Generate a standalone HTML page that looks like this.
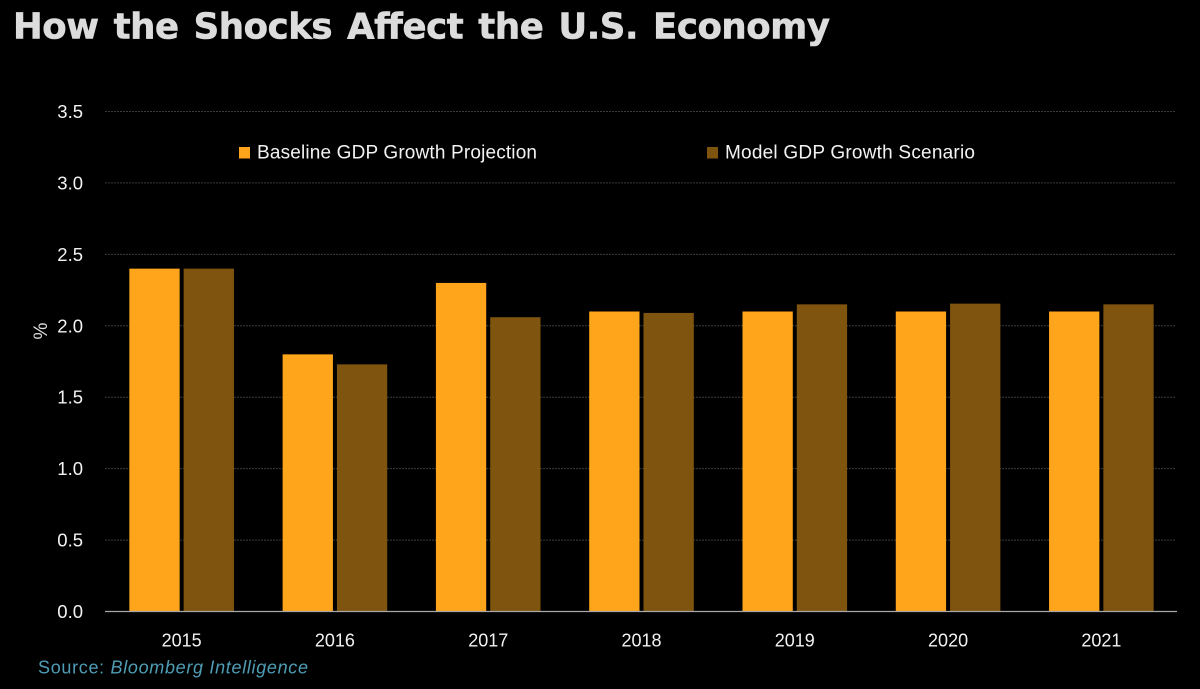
<!DOCTYPE html>
<html lang="en">
<head>
<meta charset="utf-8">
<title>How the Shocks Affect the U.S. Economy</title>
<style>
html,body{margin:0;padding:0;background:#000;width:1200px;height:689px;overflow:hidden}
svg{display:block}
text{font-family:"Liberation Sans",sans-serif}
</style>
</head>
<body>
<svg id="chart" xmlns="http://www.w3.org/2000/svg" width="1200" height="689" viewBox="0 0 1200 689">
  <rect x="0" y="0" width="1200" height="689" fill="#000"/>
  <text x="13" y="38.500" font-size="35.500" font-weight="bold" fill="#dcdcdc" stroke="#dcdcdc" stroke-width="0.6" textLength="817" lengthAdjust="spacing" style='font-family:"DejaVu Sans",sans-serif;word-spacing:3px'>How the Shocks Affect the U.S. Economy</text>
  <g id="grid"></g>
  <g id="yticks"></g>
  <g id="bars"></g>
  <g id="xticks"></g>
  <line x1="105" x2="1177" y1="611.5" y2="611.5" stroke="#a8a8a8" stroke-width="1.2"/>
  <text transform="translate(47,331) rotate(-90)" font-size="19" fill="#e0e0e0" text-anchor="middle">%</text>
  <g>
    <g>
      <rect x="239" y="147" width="11" height="11.500" fill="#ffa51b"/>
      <text x="257" y="158.500" font-size="19" fill="#f2f2f2" textLength="280" lengthAdjust="spacing">Baseline GDP Growth Projection</text>
    </g>
    <g>
      <rect x="707" y="147" width="11" height="11.500" fill="#7f540e"/>
      <text x="725" y="158.500" font-size="19" fill="#f2f2f2" textLength="250" lengthAdjust="spacing">Model GDP Growth Scenario</text>
    </g>
  </g>
  <text x="38" y="673.500" font-size="18" fill="#4f9db5" textLength="270" lengthAdjust="spacing">Source: <tspan font-style="italic">Bloomberg Intelligence</tspan></text>
</svg>
<script>
const categories = ["2015", "2016", "2017", "2018", "2019", "2020", "2021"];
const baselineValues = [2.4, 1.8, 2.3, 2.1, 2.1, 2.1, 2.1];
const modelValues = [2.4, 1.73, 2.06, 2.09, 2.15, 2.155, 2.15];
const yTickLabels = ["0.0", "0.5", "1.0", "1.5", "2.0", "2.5", "3.0", "3.5"];

const NS = "http://www.w3.org/2000/svg";
const plotLeft = 105, plotRight = 1178, plotBottom = 611.5, plotTop = 111.5, yMax = 3.5;
const barWidth = 50.3, barGap = 4;
const baselineColor = "#ffa51b", modelColor = "#7f540e";

function yScale(v) { return plotBottom - (v / yMax) * (plotBottom - plotTop); }
function xCenter(i) { return plotLeft + (i + 0.5) * (plotRight - plotLeft) / categories.length; }
function make(tag, attrs, parent) {
  const el = document.createElementNS(NS, tag);
  for (const k in attrs) el.setAttribute(k, attrs[k]);
  parent.appendChild(el);
  return el;
}

const gridG = document.getElementById("grid");
const yG = document.getElementById("yticks");
const barsG = document.getElementById("bars");
const xG = document.getElementById("xticks");

yTickLabels.forEach(function (label) {
  const v = parseFloat(label);
  const y = yScale(v);
  if (v > 0) {
    const line = make("line", {x1: plotLeft, x2: plotRight - 2, y1: y, y2: y, stroke: "#3c3c3c", "stroke-width": 1, "stroke-dasharray": "2 1"}, gridG);
    
    
  }
  const t = make("text", {x: 83, y: y + 6.5, "font-size": 18.5, fill: "#f2f2f2", "text-anchor": "end"}, yG);
  t.textContent = label;
  
  
});

categories.forEach(function (cat, i) {
  const c = xCenter(i);
  const y1 = yScale(baselineValues[i]);
  const b1 = make("rect", {x: c - barGap / 2 - barWidth, y: y1, width: barWidth, height: plotBottom - y1, fill: baselineColor}, barsG);
  
  
  const y2 = yScale(modelValues[i]);
  const b2 = make("rect", {x: c + barGap / 2, y: y2, width: barWidth, height: plotBottom - y2, fill: modelColor}, barsG);
  
  
  const t = make("text", {x: c, y: 646.5, "font-size": 18, fill: "#f2f2f2", "text-anchor": "middle"}, xG);
  t.textContent = cat;
  
  
});
</script>
</body>
</html>
